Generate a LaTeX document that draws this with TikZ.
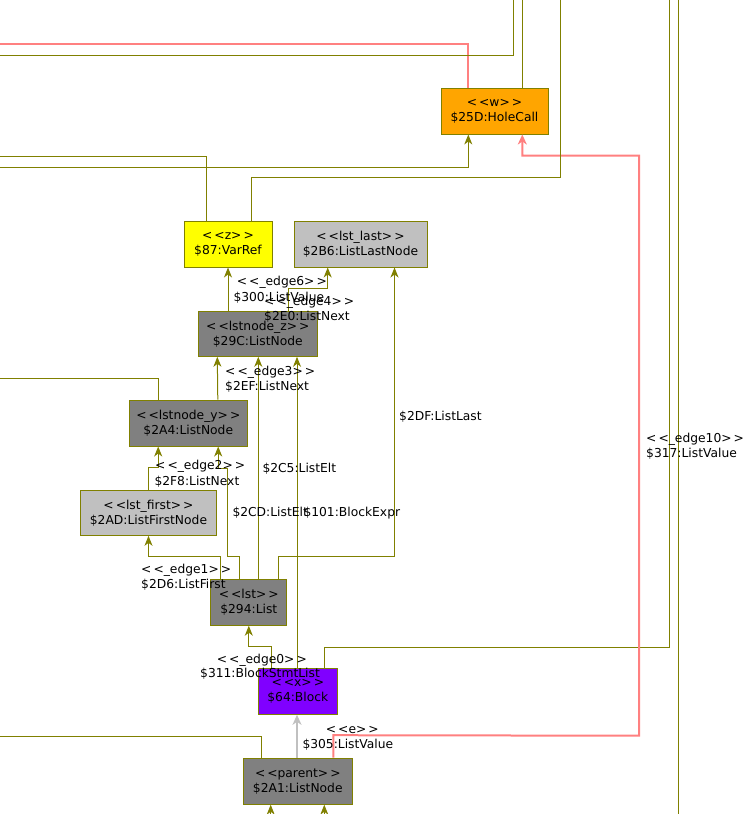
\documentclass[tikz,border=0pt]{standalone}
\usepackage{fontspec}
\newfontfamily\uf{DejaVu Sans}
\usetikzlibrary{arrows.meta}
\definecolor{olv}{HTML}{808000}
\definecolor{pnk}{HTML}{FF8080}
\definecolor{gry}{HTML}{808080}
\definecolor{lgry}{HTML}{C0C0C0}
\definecolor{orng}{HTML}{FFA500}
\definecolor{ylw}{HTML}{FFFF00}
\definecolor{prpl}{HTML}{8000FF}
\newcommand\stq[1]{<\kern2pt<#1>\kern2pt>}
\begin{document}
\begin{tikzpicture}[x=1pt,y=-1pt,
  txt/.style={font=\uf\fontsize{12.3}{15}\selectfont},
  box/.style={txt,draw=olv,line width=1pt,inner sep=0pt,minimum height=46pt,align=center},
  lab/.style={txt,anchor=west,inner sep=0pt},
  oline/.style={draw=olv,line width=1pt},
  oa/.style={oline,-{Stealth[length=10pt,width=8pt,inset=3pt]}},
  pline/.style={draw=pnk,line width=2pt},
  pa/.style={pline,-{Stealth[length=10pt,width=9pt,inset=3pt]}},
  ga/.style={draw=lgry,line width=2.5pt,-{Stealth[length=10pt,width=9pt,inset=3pt]}}
]
\useasboundingbox (0,0) rectangle (753,814);

% border coordinates
\coordinate (o1) at (669.3,0);
\coordinate (l1) at (0,736.7);
\coordinate (b1) at (270.7,814);
\coordinate (b2) at (324.3,814);
\coordinate (l2) at (0,378.3);
\coordinate (l3) at (0,156);
\coordinate (t1) at (560.7,0);
\coordinate (l4) at (0,167.3);
\coordinate (l5) at (0,43.7);
\coordinate (t2) at (522.3,0);
\coordinate (l6) at (0,55);
\coordinate (t3) at (513.3,0);
\coordinate (t4) at (678.3,0);
\coordinate (b3) at (678.3,814);
\coordinate (p1) at (639,735.7);
\coordinate (p2) at (639,155.7);

% nodes
\node[box,fill=orng,minimum width=107pt] (hole) at (494.5,111) {\stq{w}\\\$25D:HoleCall};
\node[box,fill=ylw,minimum width=88pt] (varref) at (228,244) {\stq{z}\\\$87:VarRef};
\node[box,fill=lgry,minimum width=133pt] (last) at (360.5,244) {\stq{lst\_last}\\\$2B6:ListLastNode};
\node[box,fill=gry,minimum width=119pt,minimum height=45pt] (lnz) at (257.8,333.8) {\stq{lstnode\_z}\\\$29C:ListNode};
\node[box,fill=gry,minimum width=118pt] (lny) at (188.3,423) {\stq{lstnode\_y}\\\$2A4:ListNode};
\node[box,fill=lgry,minimum width=135.6pt,minimum height=45pt] (first) at (148.5,512.8) {\stq{lst\_first}\\\$2AD:ListFirstNode};
\node[box,fill=gry,minimum width=75.7pt] (lst) at (248.8,602.2) {\stq{lst}\\\$294:List};
\node[box,fill=prpl,minimum width=79pt] (block) at (297.8,691.3) {\stq{x}\\\$64:Block};
\node[box,fill=gry,minimum width=109pt] (parent) at (297.8,781.2) {\stq{parent}\\\$2A1:ListNode};

% connectors
\draw[oa] ([xshift=9.75pt]lst.north west) -- ++(0,-22) -| (first.south);
\draw[oa] (first.north) -- ++(0,-22) -| ([xshift=29.4pt]lny.south west);
\draw[oa] ([xshift=29pt]lst.north west) -- ++(0,-22) -- ++(-11.7,0) -- ++(0,-88) -| ([xshift=-29.6pt]lny.south east);
\draw[oa] ([xshift=9.5pt]lst.north) -- ([xshift=0.5pt]lnz.south);
\draw[oa] ([xshift=-9pt]lst.north east) -- ++(0,-22) -| ([xshift=34pt]last.south);
\draw[oa] ([xshift=-30pt]lny.north east) -- ([xshift=-40.5pt]lnz.south);
\draw[oa] ([xshift=-29.8pt]lnz.north) -- (varref.south);
\draw[oa] ([xshift=30.5pt]lnz.north) -- ++(0,-22) -| ([xshift=-32.8pt]last.south);
\draw[oa] ([xshift=-0.8pt]block.north) -- ([xshift=39.2pt]lnz.south);
\draw[oa] ([xshift=-26pt]block.north) -- ++(0,-21.6) -| (lst.south);
\draw[oline] ([xshift=26.5pt]block.north) -- ++(0,-20.6) -| (o1);
\draw[ga] ([xshift=-0.8pt]parent.north) -- ([xshift=-0.8pt]block.south);
\draw[pa] ([xshift=35.5pt]parent.north) -- ++(0,-22.5) -- (p1) -- (p2) -| ([xshift=27.8pt]hole.south);
\draw[oline] ([xshift=-36.5pt]parent.north) |- (l1);
\draw[oa] (b1) -- ([xshift=-27.1pt]parent.south);
\draw[oa] (b2) -- ([xshift=26.5pt]parent.south);
\draw[oline] ([xshift=30pt]lny.north west) |- (l2);
\draw[oline] ([xshift=-21.3pt]varref.north) |- (l3);
\draw[oline] ([xshift=23pt]varref.north) -- ++(0,-42.7) -| (t1);
\draw[oa] (l4) -| ([xshift=-26.2pt]hole.south);
\draw[pline] ([xshift=-26.5pt]hole.north) |- (l5);
\draw[oline] ([xshift=27.8pt]hole.north) -- (t2);
\draw[oline] (l6) -| (t3);
\draw[oline] (t4) -- (b3);

% labels
\node[lab] (e6a) at (236.7,282.7) {\stq{\_edge6}};
\node[lab] (e6b) at (233.3,297.3) {\$300:ListValue};
\node[lab] (e4a) at (264,302.3) {\stq{\_edge4}};
\node[lab] (e4b) at (264,316.7) {\$2E0:ListNext};
\node[lab] (e3a) at (225,372.7) {\stq{\_edge3}};
\node[lab] (e3b) at (225,386.7) {\$2EF:ListNext};
\node[lab] (ell) at (399,416.7) {\$2DF:ListLast};
\node[lab] (e2a) at (155,466.7) {\stq{\_edge2}};
\node[lab] (e2b) at (154.3,481.7) {\$2F8:ListNext};
\node[lab] (ec5) at (262.3,468.3) {\$2C5:ListElt};
\node[lab] (ecd) at (232.3,512.7) {\$2CD:ListElt};
\node[lab] (ebe) at (303.3,512.7) {\$101:BlockExpr};
\node[lab] (e1a) at (141,570) {\stq{\_edge1}};
\node[lab] (e1b) at (141,584.3) {\$2D6:ListFirst};
\node[lab] (e0a) at (216.7,660.7) {\stq{\_edge0}};
\node[lab] (e0b) at (200,674) {\$311:BlockStmtList};
\node[lab] (eea) at (325.7,730) {\stq{e}};
\node[lab] (eeb) at (302.3,744.3) {\$305:ListValue};
\node[lab] (e10a) at (646,439) {\stq{\_edge10}};
\node[lab] (e10b) at (646,454) {\$317:ListValue};
\end{tikzpicture}
\end{document}
